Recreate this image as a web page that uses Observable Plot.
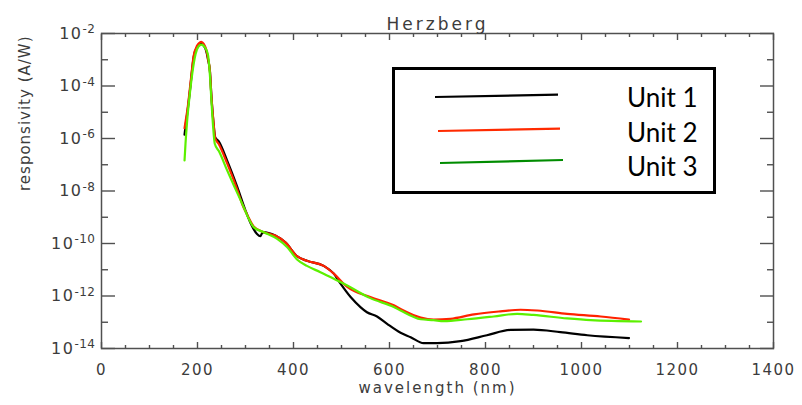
<!DOCTYPE html>
<html>
<head>
<meta charset="utf-8">
<script src="https://cdn.jsdelivr.net/npm/d3@7"></script>
<script src="https://cdn.jsdelivr.net/npm/@observablehq/plot@0.6"></script>
<style>
  html, body { margin: 0; padding: 0; background: #fff; }
  #chart { position: relative; width: 802px; height: 405px; }
  #chart svg.overlay { position: absolute; left: 0; top: 0; }
</style>
</head>
<body>
<div id="chart"></div>
<script>
// Labels
const chartTitle = "Herzberg";
const xLabel = "wavelength (nm)";
const yLabel = "responsivity (A/W)";

// Series
const unitNames = ["Unit 1", "Unit 2", "Unit 3"];
const unitColors = ["#000000", "#ff2200", "#5cf000"];
const legendColors = ["#000000", "#ff2a00", "#008c00"];

const unit1Wavelength = [173, 176, 179, 185, 192, 199, 204, 208, 213, 218, 222, 226, 229, 233, 237, 244, 262, 283, 300, 310, 324, 331, 336, 362, 383, 408, 428, 463, 484, 498, 519, 540, 553, 574, 595, 623, 644, 671, 699, 748, 803, 852, 900, 956, 1012, 1099];
const unit1Response = [1.4e-6, 4.0e-6, 1.0e-5, 8.9e-5, 1.26e-3, 3.0e-3, 4.0e-3, 4.4e-3, 3.5e-3, 2.2e-3, 1.0e-3, 3.5e-4, 4.0e-5, 4.5e-6, 1.1e-6, 7.9e-7, 1.4e-7, 1.4e-8, 1.8e-9, 6.3e-10, 2.3e-10, 1.9e-10, 2.7e-10, 2.0e-10, 1.1e-10, 3.2e-11, 2.2e-11, 1.4e-11, 7.1e-12, 2.95e-12, 9.1e-13, 3.7e-13, 2.4e-13, 1.66e-13, 8.7e-14, 4.0e-14, 2.7e-14, 1.6e-14, 1.6e-14, 1.9e-14, 3.2e-14, 5.1e-14, 5.2e-14, 4.2e-14, 3.2e-14, 2.5e-14];

const unit2Wavelength = [173, 176, 179, 185, 192, 199, 204, 208, 213, 218, 222, 226, 229, 233, 237, 244, 262, 283, 293, 305, 317, 338, 362, 383, 408, 428, 463, 484, 512, 560, 609, 623, 665, 692, 727, 776, 831, 873, 908, 970, 1040, 1099];
const unit2Response = [2.5e-6, 5.6e-6, 1.26e-5, 1.1e-4, 1.4e-3, 3.4e-3, 4.4e-3, 4.8e-3, 4.0e-3, 2.5e-3, 1.1e-3, 3.5e-4, 4.0e-5, 5.0e-6, 1.0e-6, 6.3e-7, 1.1e-7, 1.1e-8, 3.2e-9, 1.1e-9, 4.5e-10, 2.7e-10, 2.0e-10, 1.1e-10, 3.2e-11, 2.2e-11, 1.4e-11, 7.1e-12, 2.2e-12, 9.1e-13, 4.4e-13, 3.2e-13, 1.5e-13, 1.26e-13, 1.35e-13, 2.0e-13, 2.6e-13, 3.0e-13, 2.8e-13, 2.1e-13, 1.66e-13, 1.26e-13];

const unit3Wavelength = [173, 175, 178.5, 184, 189, 196, 202, 208, 214, 221.5, 225.7, 229, 232.6, 236, 245, 262, 290, 317, 338, 366, 387, 408, 428, 456, 484, 512, 560, 609, 623, 665, 692, 713, 762, 817, 866, 900, 970, 1019, 1124];
const unit3Response = [1.45e-7, 6.3e-7, 4.9e-6, 5.0e-5, 2.9e-4, 1.66e-3, 3.2e-3, 3.8e-3, 3.2e-3, 1.66e-3, 2.9e-4, 2.8e-5, 2.7e-6, 6.3e-7, 3.2e-7, 6.0e-8, 4.4e-9, 4.2e-10, 2.7e-10, 1.5e-10, 7.2e-11, 2.4e-11, 1.4e-11, 8.1e-12, 4.5e-12, 2.5e-12, 8.3e-13, 3.8e-13, 2.8e-13, 1.3e-13, 1.2e-13, 1.1e-13, 1.3e-13, 1.66e-13, 2.1e-13, 1.9e-13, 1.4e-13, 1.2e-13, 1.07e-13];

// Axis ticks
const xMajorTicks = [0, 200, 400, 600, 800, 1000, 1200, 1400];
const xMinorTicks = [50, 100, 150, 250, 300, 350, 450, 500, 550, 650, 700, 750, 850, 900, 950, 1050, 1100, 1150, 1250, 1300, 1350];
const yMajorTicks = [1e-14, 1e-12, 1e-10, 1e-8, 1e-6, 1e-4, 1e-2];
const yMinorTicks = [1e-13, 1e-11, 1e-9, 1e-7, 1e-5, 1e-3];

// Long-format table for the line mark
const series = [
  [unit1Wavelength, unit1Response],
  [unit2Wavelength, unit2Response],
  [unit3Wavelength, unit3Response]
];
const rows = series.flatMap(([w, r], i) =>
  w.map((wl, j) => ({unit: unitNames[i], wavelength: wl, response: r[j]}))
);

const sup = {"-": "\u207B", "0": "\u2070", "1": "\u00B9", "2": "\u00B2", "3": "\u00B3", "4": "\u2074",
             "5": "\u2075", "6": "\u2076", "7": "\u2077", "8": "\u2078", "9": "\u2079"};
const exponentOf = d => Math.round(Math.log10(d));
const powerOfTen = d => "10" + String(exponentOf(d)).split("").map(c => sup[c]).join("");

const axisColor = "#505050";
const textColor = "#3c3c3c";
const font = "DejaVu Sans";

const plot = Plot.plot({
  width: 802,
  height: 405,
  marginLeft: 101,
  marginRight: 29,
  marginTop: 33,
  marginBottom: 57,
  style: {fontFamily: font, background: "#fff", color: textColor},
  x: {domain: [0, 1400]},
  y: {type: "log", domain: [1e-14, 1e-2]},
  color: {domain: unitNames, range: unitColors},
  marks: [
    Plot.line(rows, {x: "wavelength", y: "response", z: "unit", stroke: "unit",
                     strokeWidth: 2.2, curve: "monotone-x"}),
    Plot.frame({stroke: axisColor, strokeWidth: 1.5}),
    // bottom axis with labels
    Plot.axisX(xMajorTicks, {anchor: "bottom", tickSize: -6, tickPadding: 22, stroke: axisColor,
                             strokeWidth: 1.4, fill: textColor, fontSize: 15, label: null,
                             tickFormat: d => String(d)}),
    Plot.axisX(xMinorTicks, {anchor: "bottom", tickSize: -3, stroke: axisColor, strokeWidth: 1.4,
                             fill: "none", label: null}),
    // top axis, ticks only
    Plot.axisX(xMajorTicks, {anchor: "top", tickSize: -6, stroke: axisColor, strokeWidth: 1.4,
                             fill: "none", label: null}),
    Plot.axisX(xMinorTicks, {anchor: "top", tickSize: -3, stroke: axisColor, strokeWidth: 1.4,
                             fill: "none", label: null}),
    // left axis with power-of-ten labels
    Plot.axisY(yMajorTicks, {anchor: "left", tickSize: -14, tickPadding: 20, stroke: axisColor,
                             strokeWidth: 1.4, fill: textColor, fontSize: 16, label: null,
                             tickFormat: powerOfTen}),
    Plot.axisY(yMinorTicks, {anchor: "left", tickSize: -7, stroke: axisColor, strokeWidth: 1.4,
                             fill: "none", label: null}),
    // right axis, ticks only
    Plot.axisY(yMajorTicks, {anchor: "right", tickSize: -14, stroke: axisColor, strokeWidth: 1.4,
                             fill: "none", label: null}),
    Plot.axisY(yMinorTicks, {anchor: "right", tickSize: -7, stroke: axisColor, strokeWidth: 1.4,
                             fill: "none", label: null}),
    // titles
    Plot.text([chartTitle], {text: d => d, frameAnchor: "top", dy: -16, fontSize: 17,
                             fill: textColor}),
    Plot.text([xLabel], {text: d => d, frameAnchor: "bottom", dy: 44, fontSize: 15,
                         fill: textColor}),
    Plot.text([yLabel], {text: d => d, frameAnchor: "left", dx: -76, rotate: -90, fontSize: 15,
                         fill: textColor})
  ]
});

// Wide, plotter-style lettering and raised exponents on the log axis
const xTickText = xMajorTicks.map(String);
const yTickText = new Map(yMajorTicks.map(d => [powerOfTen(d), exponentOf(d)]));
d3.select(plot).selectAll("text").each(function() {
  const el = d3.select(this);
  const t = this.textContent;
  if (t === chartTitle) el.style("letter-spacing", "3px");
  else if (t === xLabel) el.style("letter-spacing", "2px");
  else if (t === yLabel) el.style("letter-spacing", "1px");
  else if (xTickText.includes(t)) el.style("letter-spacing", "1.5px");
  else if (yTickText.has(t)) {
    const e = yTickText.get(t);
    el.text("").style("letter-spacing", "1.5px");
    el.append("tspan").text("10");
    el.append("tspan").attr("dy", "-0.45em").attr("font-size", "12px").style("letter-spacing", "0.5px").text(String(e));
  }
});

const chart = document.getElementById("chart");
chart.appendChild(plot);

// Boxed legend drawn over the plot area
const legend = d3.create("svg")
  .attr("class", "overlay")
  .attr("width", 802)
  .attr("height", 405)
  .style("pointer-events", "none");
legend.append("rect")
  .attr("x", 393.5).attr("y", 68.5).attr("width", 321).attr("height", 124)
  .attr("fill", "#fff").attr("stroke", "#000").attr("stroke-width", 3);
const legendRows = [
  {x1: 435, y1: 97, x2: 558, y2: 94.7, ty: 107},
  {x1: 438, y1: 131, x2: 560, y2: 128.7, ty: 142},
  {x1: 440, y1: 163, x2: 563, y2: 160, ty: 176}
];
legendRows.forEach((r, i) => {
  legend.append("line")
    .attr("x1", r.x1).attr("y1", r.y1).attr("x2", r.x2).attr("y2", r.y2)
    .attr("stroke", legendColors[i]).attr("stroke-width", 2.2);
  legend.append("text")
    .attr("x", 627).attr("y", r.ty)
    .attr("font-family", "Lato, 'Open Sans', sans-serif")
    .attr("font-size", 26)
    .attr("fill", "#000")
    .text(unitNames[i]);
});
chart.appendChild(legend.node());
</script>
</body>
</html>
